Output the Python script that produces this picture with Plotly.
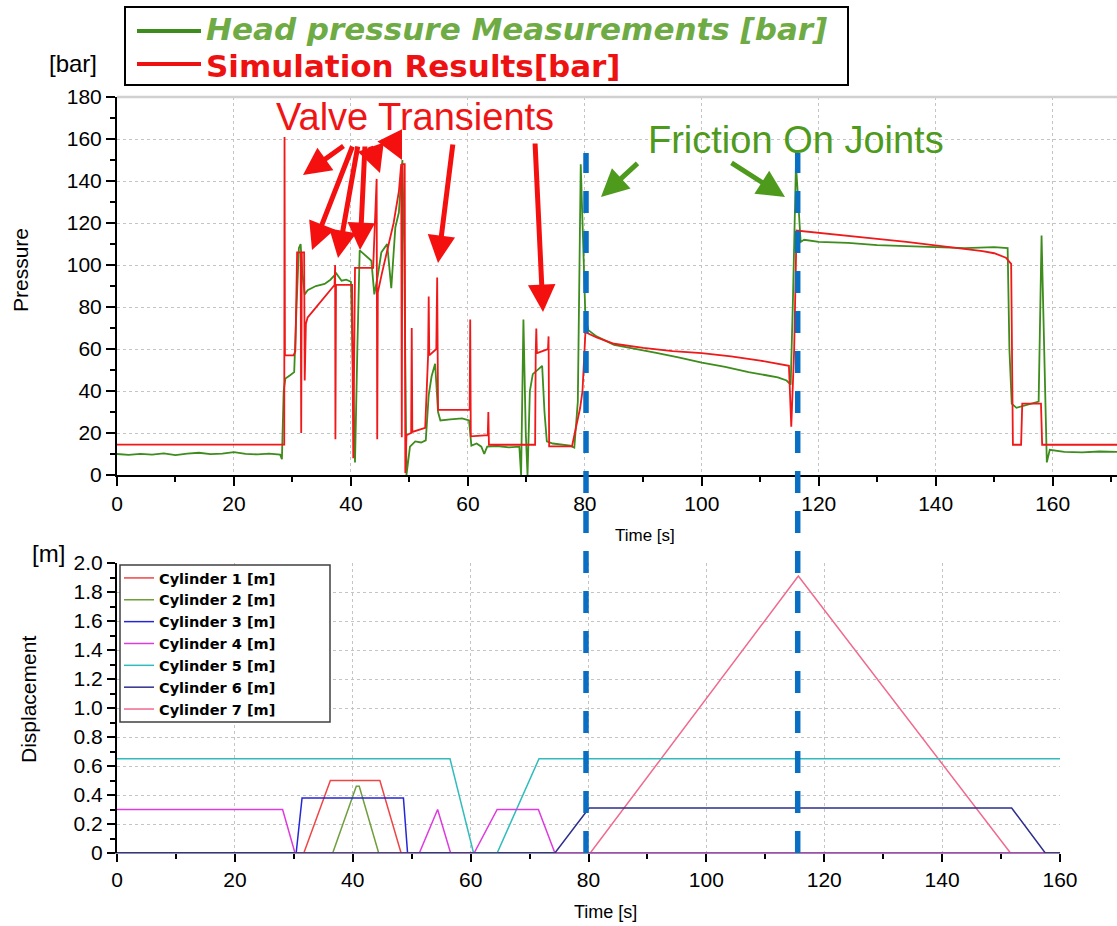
import plotly.graph_objects as go

W, H = 1117, 926

# ---------------- data: top plot (pressure) ----------------
meas_t = [0, 2, 4, 6, 8, 10, 12, 14, 16, 18, 20, 22, 24, 26, 27.9, 28.2, 28.5, 28.8, 29.6, 30.3,
          30.7, 31.1, 31.4, 31.7, 32.1, 32.6, 34, 35.5, 36.5, 37.5, 38.4, 39.2, 40.0, 40.4, 40.7,
          41.1, 41.5, 43.5, 44.0, 44.6, 45.2, 46.2, 46.9, 47.6, 48.2, 48.8, 49.1, 49.5, 50.1, 51,
          52, 52.8, 53.3, 53.8, 54.4, 54.9, 55.3, 57, 59, 60.2, 60.6, 61.5, 62.3, 62.8, 63.3, 65,
          67, 68.8, 69.1, 69.5, 69.9, 70.2, 70.6, 71.1, 72, 72.7, 73.1, 73.5, 74.5, 76, 77.5,
          78.2, 78.8, 79.3, 79.6, 80.1, 80.6, 82, 85, 88, 92, 96, 100, 104, 108, 111, 113, 114.5,
          115.2, 115.6, 116.1, 116.5, 116.9, 117.5, 120, 125, 130, 135, 140, 145, 150, 152.3,
          152.6, 153, 153.8, 155, 156.5, 157.6, 158.1, 158.5, 159.0, 159.5, 162, 165, 168, 171]
meas_p = [10, 9.6, 10.1, 9.7, 10.3, 9.5, 10.2, 10.6, 9.9, 10.2, 10.9, 10.1, 9.8, 10.2, 9.7, 7.5,
          40, 46, 47.5, 49, 80, 108, 110, 96, 86, 88, 90, 91, 93, 96, 92.5, 93, 92, 40, 6, 60,
          107, 102, 86, 95, 106, 110, 89, 118, 125, 150, 110, 0, 13.5, 16, 15.5, 16.5, 38, 47, 53,
          30, 26, 26.5, 27, 26, 14, 15, 13.5, 10, 13.5, 13.8, 13.2, 13.5, 0, 74, 20, 0, 40, 48, 50,
          52, 30, 16, 15, 14.5, 14, 13, 35, 148, 120, 75, 69, 66, 62, 60.5, 58.3, 56, 53.5, 51.5,
          49, 47.5, 46.5, 45, 43, 85, 148, 130, 111, 112, 111, 110.5, 109.5, 109, 108.5, 108,
          108.5, 108, 60, 34, 32, 33, 34, 35, 114, 60, 6, 12, 11, 10.8, 11.2, 11]

sim_t = [0, 28.6, 28.65, 28.72, 30.2, 30.5, 30.8, 31.4, 31.5, 31.6, 32.0, 32.1, 32.3, 32.6, 33.5,
         35, 36.5, 37.2, 37.3, 37.35, 37.45, 40.2, 40.4, 40.7, 43.8, 44.4, 44.5, 44.6, 45.3, 46.2,
         47.3, 48.2, 48.6, 48.7, 48.8, 49.2, 49.3, 49.5, 50.3, 50.4, 50.5, 52.7, 53.2, 53.3, 53.4,
         54.6, 54.75, 54.9, 60.3, 60.4, 60.5, 63.4, 63.5, 63.6, 71.5, 71.6, 71.7, 71.8, 73.7, 73.8,
         73.9, 77.8, 79.2, 79.6, 80.1, 82, 85, 90, 95, 100, 105, 110, 114.9, 115.3, 115.8, 116.2,
         120, 125, 130, 135, 142, 148, 150, 152, 152.9, 153.2, 154.6, 154.8, 158.0, 158.2, 171]
sim_p = [14.5, 14.5, 161, 57, 57, 59, 106, 106, 20, 106, 106, 45, 72, 75, 78, 83, 88, 90.5, 100,
         17, 90.5, 90.5, 8, 98.6, 98.6, 141, 17, 87, 96, 107, 120, 135, 148, 18, 148, 148, 1, 19,
         20, 70, 20.5, 22.5, 57, 85, 57, 60, 94, 31, 31, 74, 18.4, 19, 30, 14.4, 14.4, 58, 69.7,
         58, 60, 66, 13.6, 13.6, 32, 40, 68, 65.5, 62.5, 60.5, 59, 58, 56.5, 54.5, 52, 23, 60,
         116.4, 115.2, 113.8, 112.4, 111, 108.8, 106.6, 105.6, 103.5, 100.5, 14.4, 14.4, 34, 34,
         14.4, 14.4]

# ---------------- data: bottom plot (displacement) ----------------
cyl_names = ["Cylinder 1 [m]", "Cylinder 2 [m]", "Cylinder 3 [m]", "Cylinder 4 [m]",
             "Cylinder 5 [m]", "Cylinder 6 [m]", "Cylinder 7 [m]"]
cyl_colors = ["#f04545", "#6f9e3c", "#2626d9", "#dd3cdd", "#30bcbc", "#2e2e8c", "#f06a8e"]
cyl1_t = [0, 31.7, 36.2, 44.6, 48.2, 160]
cyl1_d = [0, 0, 0.5, 0.5, 0, 0]
cyl2_t = [0, 36.6, 40.6, 41.1, 44.4, 160]
cyl2_d = [0, 0, 0.46, 0.46, 0, 0]
cyl3_t = [0, 30.4, 31.4, 48.6, 49.3, 160]
cyl3_d = [0, 0, 0.38, 0.38, 0, 0]
cyl4_t = [0, 28.1, 30.2, 51.3, 54.4, 56.6, 60.6, 64.5, 71.5, 74.3, 160]
cyl4_d = [0.3, 0.3, 0, 0, 0.3, 0, 0, 0.3, 0.3, 0, 0]
cyl5_t = [0, 56.5, 60.5, 64.5, 71.6, 160]
cyl5_d = [0.65, 0.65, 0, 0, 0.65, 0.65]
cyl6_t = [0, 74.3, 80.1, 151.8, 157.5, 160]
cyl6_d = [0, 0, 0.31, 0.31, 0, 0]
cyl7_t = [80.3, 115.6, 151.6, 160]
cyl7_d = [0, 1.91, 0, 0]
cyl_t = [cyl1_t, cyl2_t, cyl3_t, cyl4_t, cyl5_t, cyl6_t, cyl7_t]
cyl_d = [cyl1_d, cyl2_d, cyl3_d, cyl4_d, cyl5_d, cyl6_d, cyl7_d]

top_xticks = [0, 20, 40, 60, 80, 100, 120, 140, 160]
top_yticks = [0, 20, 40, 60, 80, 100, 120, 140, 160, 180]
bot_xticks = [0, 20, 40, 60, 80, 100, 120, 140, 160]
bot_yticks = [0, 0.2, 0.4, 0.6, 0.8, 1.0, 1.2, 1.4, 1.6, 1.8, 2.0]
bot_yticktext = ["0", "0.2", "0.4", "0.6", "0.8", "1.0", "1.2", "1.4", "1.6", "1.8", "2.0"]
marker_times = [80.2, 116.4]


def px(x):
    return x / W


def py(y):
    return 1 - y / H


NARROW = "Liberation Sans Narrow, Arial Narrow, Liberation Sans, sans-serif"
SANS = "Liberation Sans, Arial, sans-serif"
WIDE = "DejaVu Sans, Liberation Sans, sans-serif"

fig = go.Figure()
fig.add_trace(go.Scatter(x=meas_t, y=meas_p, mode="lines", line=dict(color="#3d8c1c", width=1.8),
                         xaxis="x", yaxis="y", showlegend=False))
fig.add_trace(go.Scatter(x=sim_t, y=sim_p, mode="lines", line=dict(color="#f01818", width=1.8),
                         xaxis="x", yaxis="y", showlegend=False))

draw_order = [6, 0, 1, 2, 4, 3, 5]
for i in draw_order:
    fig.add_trace(go.Scatter(x=cyl_t[i], y=cyl_d[i], mode="lines", name=cyl_names[i],
                             line=dict(color=cyl_colors[i], width=1.5),
                             xaxis="x2", yaxis="y2", legend="legend2", legendrank=i + 1))

grid = dict(showgrid=True, gridcolor="#c4c4c4", griddash="dot", gridwidth=1)
common = dict(ticks="outside", tickwidth=1.5, tickcolor="black", zeroline=False, automargin=False,
              tickfont=dict(size=21, family=NARROW))
fig.update_layout(
    width=W, height=H, margin=dict(l=0, r=0, t=0, b=0, pad=0, autoexpand=False),
    paper_bgcolor="white", plot_bgcolor="white",
    font=dict(family=NARROW, color="black"),
    showlegend=True,
    xaxis=dict(domain=[px(117), 1], range=[0, 171], anchor="y", tickvals=top_xticks, ticklen=9,
               minor=dict(dtick=10, tick0=0, ticks="outside", ticklen=5, tickcolor="black", showgrid=False),
               showline=True, linecolor="black", linewidth=2, **common, **grid),
    yaxis=dict(domain=[py(475), py(97)], range=[0, 180], anchor="x", tickvals=top_yticks, ticklen=9,
               minor=dict(dtick=10, tick0=0, ticks="outside", ticklen=5, tickcolor="black", showgrid=False),
               showline=True, linecolor="black", linewidth=2, **common, **grid),
    xaxis2=dict(domain=[px(117), px(1060)], range=[0, 160], anchor="y2", tickvals=bot_xticks, ticklen=8,
                minor=dict(dtick=10, tick0=0, ticks="outside", ticklen=5, tickcolor="black", showgrid=False),
                showline=True, linecolor="#909090", linewidth=1, **common, **grid),
    yaxis2=dict(domain=[py(853), py(563)], range=[0, 2.0], anchor="x2", tickvals=bot_yticks,
                ticktext=bot_yticktext, ticklen=8,
                minor=dict(dtick=0.1, tick0=0, ticks="outside", ticklen=5, tickcolor="black", showgrid=False),
                showline=True, linecolor="black", linewidth=2, **common, **grid),
    legend2=dict(x=px(119), y=py(562), xanchor="left", yanchor="top", bgcolor="rgba(0,0,0,0)",
                 borderwidth=0,
                 font=dict(size=14.5, family=WIDE, color="black", weight="bold"),
                 tracegroupgap=0, itemwidth=30),
)

shapes = []
# top border of upper plot
shapes.append(dict(type="line", xref="paper", yref="paper", x0=px(117), x1=1, y0=py(97), y1=py(97),
                   line=dict(color="#d0d0d0", width=2.5)))
# blue dashed markers across both plots
for tm in marker_times:
    shapes.append(dict(type="line", xref="x", yref="paper", x0=tm, x1=tm, y0=py(853), y1=py(153),
                       line=dict(color="#0a6fc2", width=5.5, dash="22px,18px")))
# bottom legend frame
shapes.append(dict(type="rect", xref="paper", yref="paper", x0=px(120), x1=px(330), y0=py(722), y1=py(565),
                   line=dict(color="#404040", width=1.5), fillcolor="white", layer="above"))
# top legend box
shapes.append(dict(type="rect", xref="paper", yref="paper", x0=px(125), x1=px(848), y0=py(85), y1=py(7),
                   line=dict(color="black", width=2), fillcolor="white", layer="above"))
shapes.append(dict(type="line", xref="paper", yref="paper", x0=px(137), x1=px(201), y0=py(31), y1=py(31),
                   line=dict(color="#3d8c1c", width=4), layer="above"))
shapes.append(dict(type="line", xref="paper", yref="paper", x0=px(137), x1=px(201), y0=py(64), y1=py(64),
                   line=dict(color="#ee1111", width=4), layer="above"))
fig.update_layout(shapes=shapes)

ann = []


def label(text, x, y, size, color="black", family=NARROW, angle=0, xanchor="center", bold=False, italic=False):
    t = text
    if bold:
        t = "<b>" + t + "</b>"
    if italic:
        t = "<i>" + t + "</i>"
    ann.append(dict(text=t, x=px(x), y=py(y), xref="paper", yref="paper", showarrow=False,
                    xanchor=xanchor, yanchor="middle", textangle=angle,
                    font=dict(size=size, color=color, family=family)))


label("Head pressure Measurements [bar]", 204, 29, 31, color="#6fab45", family=WIDE,
      xanchor="left", bold=True, italic=True)
label("Simulation Results[bar]", 204, 66, 31, color="#ee1111", family=WIDE, xanchor="left", bold=True)
label("[bar]", 73, 63, 24)
label("Pressure", 20, 270, 21, angle=-90)
label("Time [s]", 645, 535, 17)
label("[m]", 48, 553, 24)
label("Displacement", 28, 700, 21, angle=-90)
label("Time [s]", 605, 912, 18)
label("Valve Transients", 415, 117, 38, color="#f01515", family=SANS)
label("Friction On Joints", 796, 140, 38, color="#4e9a1c", family=SANS)

# arrows: (start_x, start_y, tip_x, tip_y) in pixels
red_arrows = [(345, 145, 303, 175), (353, 145, 312, 250), (358, 145, 338, 258), (365, 145, 360, 250),
              (370, 145, 380, 173), (393, 142, 402, 160), (453, 143, 438, 263), (535, 142, 543, 312)]
green_arrows = [(639, 162, 601, 197), (730, 162, 785, 197)]
for arrows, col in ((red_arrows, "#f51010"), (green_arrows, "#4e9a1c")):
    for sx, sy, tx, ty in arrows:
        ann.append(dict(text="", x=px(tx), y=py(ty), xref="paper", yref="paper", showarrow=True,
                        ax=sx - tx, ay=sy - ty, axref="pixel", ayref="pixel",
                        arrowhead=2, arrowsize=1.1, arrowwidth=5, arrowcolor=col, standoff=0))
fig.update_layout(annotations=ann)

fig.write_html("out.html",
               post_script="document.body.style.margin='0px';document.body.style.overflow='hidden';")
